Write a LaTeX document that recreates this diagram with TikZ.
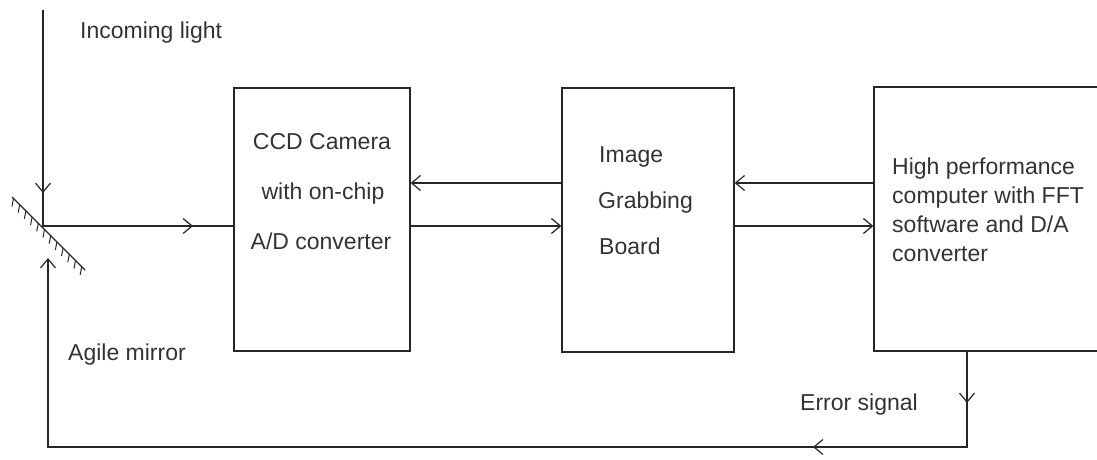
\documentclass[tikz,border=0pt]{standalone}
\usepackage{fontspec}
\setmainfont{Liberation Sans}
\usetikzlibrary{arrows.meta,decorations.markings,calc}

\tikzset{
  ink/.style={line width=1.3pt, draw=black!85},
  barb/.tip={Straight Barb[length=9pt,width=15pt,line width=1.2pt]},
  block/.style={ink, rectangle, inner sep=0pt, fill=none},
  txt/.style={anchor=base, inner sep=0pt, text=black!80,
    font=\fontsize{23}{28}\selectfont},
  txtl/.style={txt, anchor=base west},
  link/.style={ink, -barb},
  midarrow/.style={postaction={decorate, decoration={markings,
    mark=at position #1 with {\arrow{barb}}}}},
}

\begin{document}
\begin{tikzpicture}[x=1pt, y=-1pt]
  \useasboundingbox (0,0) rectangle (1097,460);
  \clip (0,0) rectangle (1097,460);

  % the three processing blocks
  \node[block, minimum width=176pt, minimum height=263pt] (camera) at (322,219.5) {};
  \node[block, minimum width=172pt, minimum height=264pt] (board) at (648,220) {};
  \node[block, minimum width=240pt, minimum height=264pt] (pc) at (994,219) {};

  % block texts
  \node[txt] (cam1) at (322,149) {CCD Camera};
  \node[txt] (cam2) at (323,199) {with on-chip};
  \node[txt] (cam3) at (321,249) {A/D converter};

  \node[txtl] (brd1) at (599,162) {Image};
  \node[txtl] (brd2) at (598,208) {Grabbing};
  \node[txtl] (brd3) at (599,254) {Board};

  \node[txtl] (pc1) at (892,174) {High performance};
  \node[txtl] (pc2) at (892,203) {computer with FFT};
  \node[txtl] (pc3) at (892,232) {software and D/A};
  \node[txtl] (pc4) at (892,261) {converter};

  % free labels
  \node[txtl] (lblin) at (80,39) {Incoming light};
  \node[txtl] (lblmir) at (68,360) {Agile mirror};
  \node[txtl] (lblerr) at (800,410) {Error signal};

  % agile mirror with hatching on its back side
  \coordinate (mA) at (12,197);
  \coordinate (mB) at (85,270);
  \draw[ink] (mA) -- (mB);
  \foreach \t in {0.02,0.105,...,1.0}{
    \draw[line width=1pt, draw=black!85]
      ($(mA)!\t!(mB)$) -- ++(-1.5,8);
  }

  % optical path
  \coordinate (src) at (43,10);
  \coordinate (hit) at (43,227);
  \coordinate (yU) at (0,183);
  \coordinate (yL) at (0,226);
  \draw[ink, midarrow=183pt] (src) -- (hit);
  \draw[ink, midarrow=150pt] (hit |- yL) -- (camera.west |- yL);

  % data links between the blocks
  \draw[link] (board.west |- yU) -- (camera.east |- yU);
  \draw[link] (camera.east |- yL) -- (board.west |- yL);
  \draw[link] (pc.west |- yU) -- (board.east |- yU);
  \draw[link] (board.east |- yL) -- (pc.west |- yL);

  % feedback loop to the mirror
  \coordinate (errOut) at (967,351);
  \coordinate (mirIn) at (48,258);
  \coordinate (loopR) at (967,447);
  \coordinate (loopL) at (48,447);
  \draw[ink, -barb,
    postaction={decorate, decoration={markings,
      mark=at position 52pt with {\arrow{barb}},
      mark=at position 250pt with {\arrow{barb}}}}]
    (errOut) -- (loopR) -- (loopL) -- (mirIn);
\end{tikzpicture}
\end{document}
